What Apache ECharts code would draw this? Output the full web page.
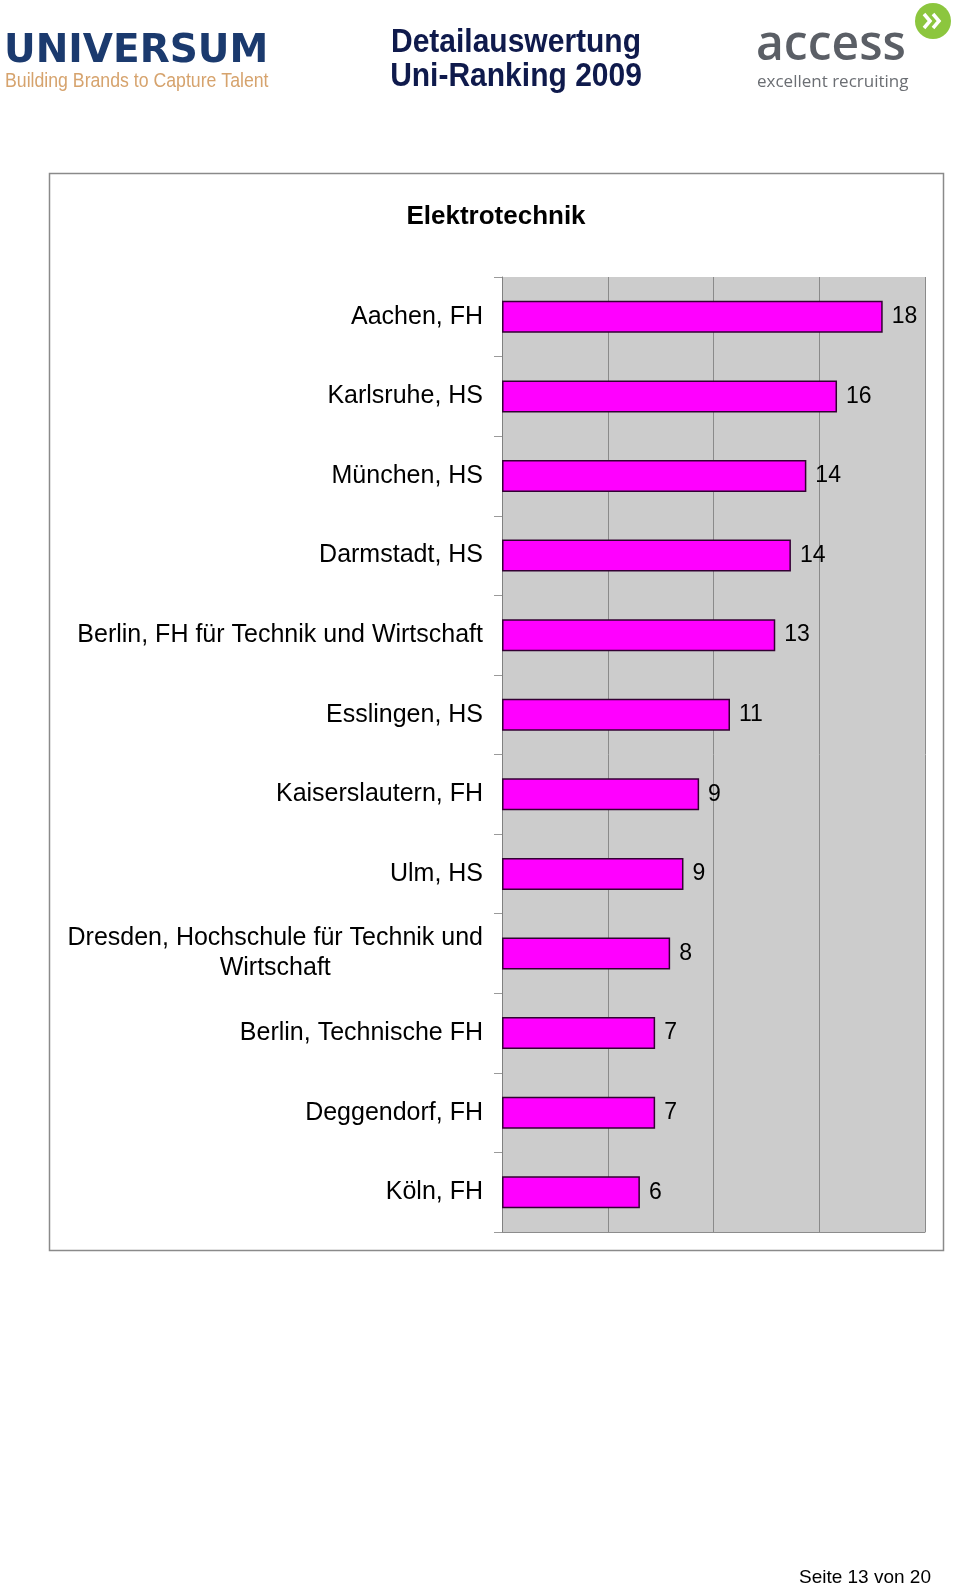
<!DOCTYPE html>
<html>
<head>
<meta charset="utf-8">
<script src="https://cdn.jsdelivr.net/npm/echarts@6/dist/echarts.min.js"></script>
<style>
  html, body { margin: 0; padding: 0; background: #ffffff; }
  #chart { width: 960px; height: 1588px; }
</style>
</head>
<body>
<div id="chart"></div>
<script>
const categories = [
  'Aachen, FH',
  'Karlsruhe, HS',
  'München, HS',
  'Darmstadt, HS',
  'Berlin, FH für Technik und Wirtschaft',
  'Esslingen, HS',
  'Kaiserslautern, FH',
  'Ulm, HS',
  'Dresden, Hochschule für Technik und Wirtschaft',
  'Berlin, Technische FH',
  'Deggendorf, FH',
  'Köln, FH'
];
const values = [18.0, 15.84, 14.39, 13.66, 12.92, 10.78, 9.32, 8.58, 7.95, 7.24, 7.24, 6.52];
const valueLabels = ['18', '16', '14', '14', '13', '11', '9', '9', '8', '7', '7', '6'];
const xTicks = [0, 5, 10, 15, 20];
const chartTitle = 'Elektrotechnik';
const headerTitle = ['Detailauswertung', 'Uni-Ranking 2009'];
const pageFooter = 'Seite 13 von 20';

const FONT = '"Liberation Sans", Arial, sans-serif';

function wrapLabel(v) {
  let lines = [v];
  if (v.length > 40) {
    const cut = v.lastIndexOf(' ', 36);
    lines = [v.slice(0, cut), v.slice(cut + 1)];
  }
  return lines.map(l => '{c|' + l + '}').join('\n');
}

const chart = echarts.init(document.getElementById('chart'), null, { renderer: 'canvas' });

const option = {
  backgroundColor: '#ffffff',
  animation: false,
  grid: {
    left: 502, right: 35, top: 277, bottom: 356,
    show: true, backgroundColor: '#cccccc', borderWidth: 0
  },
  xAxis: {
    type: 'value',
    min: xTicks[0], max: xTicks[xTicks.length - 1], interval: xTicks[1] - xTicks[0],
    axisLabel: { show: false },
    axisTick: { show: false },
    axisLine: { show: true, lineStyle: { color: '#8c8c8c', width: 1 } },
    splitLine: { show: true, lineStyle: { color: '#8a8a8a', width: 1 } }
  },
  yAxis: {
    type: 'category',
    inverse: true,
    data: categories,
    axisLine: { show: true, lineStyle: { color: '#808080', width: 1 } },
    axisTick: { show: true, length: 8, lineStyle: { color: '#9a9a9a', width: 1 } },
    axisLabel: {
      margin: 19,
      formatter: wrapLabel,
      rich: {
        c: { fontSize: 25, lineHeight: 30, color: '#000000', fontFamily: FONT, align: 'center' }
      }
    }
  },
  series: [{
    type: 'bar',
    data: values,
    barWidth: 32,
    itemStyle: { color: '#ff00ff', borderColor: '#330033', borderWidth: 1.5 },
    label: {
      show: true, position: 'right', distance: 9,
      fontSize: 23, color: '#000000', fontFamily: FONT,
      formatter: p => valueLabels[p.dataIndex]
    }
  }],
  graphic: [
    { type: 'rect', shape: { x: 49.5, y: 173.5, width: 894, height: 1077 },
      style: { fill: null, stroke: '#8a8a8a', lineWidth: 1.5 }, z: 100 },
    { type: 'text', x: 496, y: 217,
      style: { text: chartTitle, font: 'bold 26px ' + FONT, fill: '#000', align: 'center', verticalAlign: 'middle' } },
    // Universum logo
    { type: 'text', x: 4, y: 52,
      style: { text: 'UNIVERSUM', font: 'bold 39px "DejaVu Sans", sans-serif', fill: '#1b3a6e', align: 'left', verticalAlign: 'middle' } },
    { type: 'text', x: 5, y: 82, scaleY: 1.1,
      style: { text: 'Building Brands to Capture Talent', font: '17.7px ' + FONT, fill: '#d6a36d', align: 'left', verticalAlign: 'middle' } },
    // Header title
    { type: 'text', x: 516, y: 42.5, scaleY: 1.1,
      style: { text: headerTitle[0], font: 'bold 30px ' + FONT, fill: '#0f1a4c', align: 'center', verticalAlign: 'middle' } },
    { type: 'text', x: 516, y: 77, scaleY: 1.1,
      style: { text: headerTitle[1], font: 'bold 30px ' + FONT, fill: '#0f1a4c', align: 'center', verticalAlign: 'middle' } },
    // access logo
    { type: 'text', x: 756, y: 46,
      style: { text: 'access', font: '600 48px "Open Sans", sans-serif', fill: '#5b5f66', align: 'left', verticalAlign: 'middle' } },
    { type: 'text', x: 757, y: 82,
      style: { text: 'excellent recruiting', font: '17px "Open Sans", sans-serif', fill: '#6b6e73', align: 'left', verticalAlign: 'middle' } },
    { type: 'circle', shape: { cx: 933, cy: 21, r: 18 }, style: { fill: '#8cc63e' } },
    { type: 'polyline', shape: { points: [[924, 14], [930, 21], [924, 28]] },
      style: { stroke: '#ffffff', lineWidth: 3.5, fill: null } },
    { type: 'polyline', shape: { points: [[933, 14], [939, 21], [933, 28]] },
      style: { stroke: '#ffffff', lineWidth: 3.5, fill: null } },
    // footer
    { type: 'text', x: 931, y: 1578,
      style: { text: pageFooter, font: '19px ' + FONT, fill: '#000', align: 'right', verticalAlign: 'middle' } }
  ]
};

chart.setOption(option);
</script>
</body>
</html>
